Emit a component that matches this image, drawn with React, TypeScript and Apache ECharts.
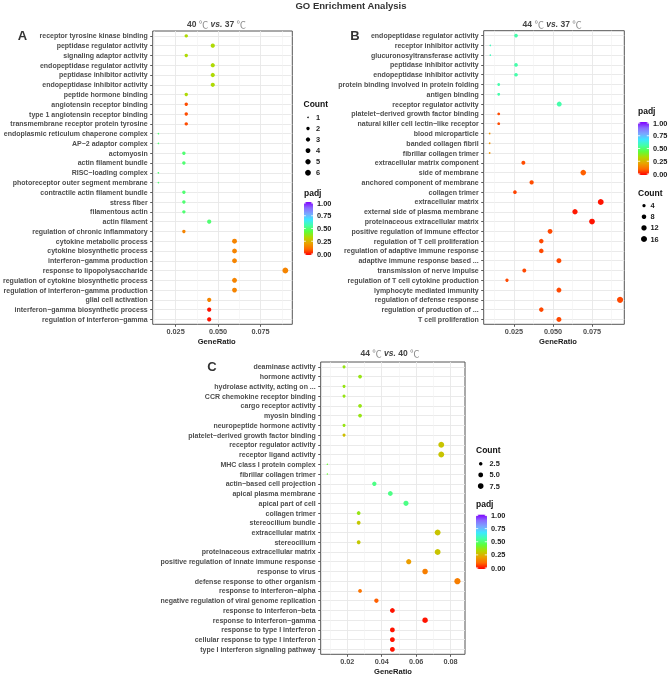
import React, { useEffect, useRef } from "react";
import * as echarts from "echarts";

// ---------- DATA ----------
const categoriesA = [
  "receptor tyrosine kinase binding",
  "peptidase regulator activity",
  "signaling adaptor activity",
  "endopeptidase regulator activity",
  "peptidase inhibitor activity",
  "endopeptidase inhibitor activity",
  "peptide hormone binding",
  "angiotensin receptor binding",
  "type 1 angiotensin receptor binding",
  "transmembrane receptor protein tyrosine",
  "endoplasmic reticulum chaperone complex",
  "AP−2 adaptor complex",
  "actomyosin",
  "actin filament bundle",
  "RISC−loading complex",
  "photoreceptor outer segment membrane",
  "contractile actin filament bundle",
  "stress fiber",
  "filamentous actin",
  "actin filament",
  "regulation of chronic inflammatory",
  "cytokine metabolic process",
  "cytokine biosynthetic process",
  "interferon−gamma production",
  "response to lipopolysaccharide",
  "regulation of cytokine biosynthetic process",
  "regulation of interferon−gamma production",
  "glial cell activation",
  "interferon−gamma biosynthetic process",
  "regulation of interferon−gamma",
];
const ratioA = [
  0.0313, 0.0469, 0.0313, 0.0469, 0.0469, 0.0469, 0.0313, 0.0313, 0.0313, 0.0313,
  0.0149, 0.0149, 0.0299, 0.0299, 0.0149, 0.0149, 0.0299, 0.0299, 0.0299, 0.0448,
  0.0299, 0.0597, 0.0597, 0.0597, 0.0896, 0.0597, 0.0597, 0.0448, 0.0448, 0.0448,
];
const countA = [2, 3, 2, 3, 3, 3, 2, 2, 2, 2, 1, 1, 2, 2, 1, 1, 2, 2, 2, 3, 2, 4, 4, 4, 6, 4, 4, 3, 3, 3];
const padjA = [
  0.34, 0.34, 0.34, 0.34, 0.34, 0.34, 0.34, 0.08, 0.08, 0.08,
  0.5, 0.5, 0.5, 0.5, 0.5, 0.5, 0.5, 0.5, 0.5, 0.5,
  0.16, 0.16, 0.16, 0.16, 0.16, 0.16, 0.16, 0.16, 0.02, 0.02,
];

const categoriesB = [
  "endopeptidase regulator activity",
  "receptor inhibitor activity",
  "glucuronosyltransferase activity",
  "peptidase inhibitor activity",
  "endopeptidase inhibitor activity",
  "protein binding involved in protein folding",
  "antigen binding",
  "receptor regulator activity",
  "platelet−derived growth factor binding",
  "natural killer cell lectin−like receptor",
  "blood microparticle",
  "banded collagen fibril",
  "fibrillar collagen trimer",
  "extracellular matrix component",
  "side of membrane",
  "anchored component of membrane",
  "collagen trimer",
  "extracellular matrix",
  "external side of plasma membrane",
  "proteinaceous extracellular matrix",
  "positive regulation of immune effector",
  "regulation of T cell proliferation",
  "regulation of adaptive immune response",
  "adaptive immune response based ...",
  "transmission of nerve impulse",
  "regulation of T cell cytokine production",
  "lymphocyte mediated immunity",
  "regulation of defense response",
  "regulation of production of ...",
  "T cell proliferation",
];
const ratioB = [
  0.0263, 0.0098, 0.0098, 0.0263, 0.0263, 0.0152, 0.0152, 0.054, 0.0152, 0.0152,
  0.0094, 0.0094, 0.0094, 0.031, 0.0694, 0.0363, 0.0256, 0.0806, 0.0641, 0.075,
  0.0481, 0.0425, 0.0425, 0.0538, 0.0316, 0.0205, 0.0538, 0.093, 0.0425, 0.0538,
];
const countB = [5, 2, 2, 5, 5, 3, 3, 10, 3, 3, 2, 2, 2, 6, 13, 7, 5, 15, 12, 14, 9, 8, 8, 10, 6, 4, 10, 17, 8, 10];
const padjB = [
  0.56, 0.58, 0.58, 0.56, 0.56, 0.56, 0.56, 0.56, 0.08, 0.08,
  0.19, 0.19, 0.19, 0.08, 0.1, 0.08, 0.07, 0.02, 0.025, 0.02,
  0.075, 0.075, 0.075, 0.075, 0.075, 0.075, 0.075, 0.075, 0.075, 0.075,
];

const categoriesC = [
  "deaminase activity",
  "hormone activity",
  "hydrolase activity, acting on ...",
  "CCR chemokine receptor binding",
  "cargo receptor activity",
  "myosin binding",
  "neuropeptide hormone activity",
  "platelet−derived growth factor binding",
  "receptor regulator activity",
  "receptor ligand activity",
  "MHC class I protein complex",
  "fibrillar collagen trimer",
  "actin−based cell projection",
  "apical plasma membrane",
  "apical part of cell",
  "collagen trimer",
  "stereocilium bundle",
  "extracellular matrix",
  "stereocilium",
  "proteinaceous extracellular matrix",
  "positive regulation of innate immune response",
  "response to virus",
  "defense response to other organism",
  "response to interferon−alpha",
  "negative regulation of viral genome replication",
  "response to interferon−beta",
  "response to interferon−gamma",
  "response to type I interferon",
  "cellular response to type I interferon",
  "type I interferon signaling pathway",
];
const ratioC = [
  0.0181, 0.0274, 0.0181, 0.0181, 0.0274, 0.0274, 0.0181, 0.0181, 0.0746, 0.0746,
  0.0084, 0.0084, 0.0357, 0.045, 0.0541, 0.0266, 0.0266, 0.0725, 0.0266, 0.0725,
  0.0557, 0.0652, 0.084, 0.0274, 0.0369, 0.0462, 0.0652, 0.0462, 0.0462, 0.0462,
];
const countC = [2, 3, 2, 2, 3, 3, 2, 2, 8, 8, 1, 1, 4, 5, 6, 3, 3, 8, 3, 8, 6, 7, 9, 3, 4, 5, 7, 5, 5, 5];
const padjC = [
  0.37, 0.37, 0.37, 0.37, 0.37, 0.37, 0.37, 0.28, 0.29, 0.29,
  0.43, 0.43, 0.52, 0.52, 0.52, 0.37, 0.3, 0.29, 0.3, 0.29,
  0.21, 0.15, 0.15, 0.13, 0.1, 0.02, 0.02, 0.02, 0.02, 0.02,
];

const xTicksAB = [0.025, 0.05, 0.075];
const xMinorAB = [0.0125, 0.0375, 0.0625, 0.0875];
const xTicksC = [0.02, 0.04, 0.06, 0.08];
const xMinorC = [0.01, 0.03, 0.05, 0.07];
const countLegendA = [1, 2, 3, 4, 5, 6];
const countLegendB = [4, 8, 12, 16];
const countLegendC = [2.5, 5.0, 7.5];
const padjTicks = [1.0, 0.75, 0.5, 0.25, 0.0];

// ---------- STYLE ----------
const FONT = "'Liberation Sans', Arial, Helvetica, sans-serif";
const padjColors = [
  "#FF0000", "#FF6A00", "#E8A400", "#B4D800", "#5CFF3C",
  "#44FFA8", "#3CE8FF", "#7AA8FF", "#8A6CFF", "#8000FF",
];

const panels = [
  {
    cats: categoriesA, ratio: ratioA, count: countA, padj: padjA,
    grid: { left: 150, top: 31, width: 142.3, height: 293.3 },
    xMin: 0.01155, xMax: 0.0937, ticks: xTicksAB, minor: xMinorAB, dec: 3,
    size: { cmin: 1, cmax: 6, dmin: 1.5, dmax: 5.8 },
    title: { x: 216.5, y: 24, a: "40 ", b: " 37 " },
    letter: { t: "A", x: 22.5, y: 35 },
    xname: { x: 216.7, y: 341.3 },
    countLeg: { title: [303.5, 104.3], dotX: 308, labX: 316, y0: 117.3, dy: 11.1, vals: countLegendA, dec: 0 },
    bar: { left: 304, top: 202, w: 9, h: 53, titleY: 193.3 },
  },
  {
    cats: categoriesB, ratio: ratioB, count: countB, padj: padjB,
    grid: { left: 483.7, top: 30.7, width: 140.6, height: 293.6 },
    xMin: 0.00558, xMax: 0.0957, ticks: xTicksAB, minor: xMinorAB, dec: 3,
    size: { cmin: 2, cmax: 17, dmin: 1.6, dmax: 6.2 },
    title: { x: 552.2, y: 24, a: "44 ", b: " 37 " },
    letter: { t: "B", x: 355, y: 35 },
    xname: { x: 558, y: 341.3 },
    countLeg: { title: [638, 193], dotX: 644, labX: 650.5, y0: 205.7, dy: 11.1, vals: countLegendB, dec: 0 },
    bar: { left: 638, top: 122, w: 11, h: 53, titleY: 111 },
  },
  {
    cats: categoriesC, ratio: ratioC, count: countC, padj: padjC,
    grid: { left: 320.7, top: 362, width: 144.3, height: 292.3 },
    xMin: 0.00453, xMax: 0.0884, ticks: xTicksC, minor: xMinorC, dec: 2,
    size: { cmin: 1, cmax: 9, dmin: 1.4, dmax: 6.2 },
    title: { x: 390, y: 353, a: "44 ", b: " 40 " },
    letter: { t: "C", x: 212, y: 366 },
    xname: { x: 393, y: 671.3 },
    countLeg: { title: [476, 450.3], dotX: 480.7, labX: 489.5, y0: 463.7, dy: 11.2, vals: countLegendC, dec: 1 },
    bar: { left: 476, top: 514.5, w: 11, h: 54.5, titleY: 504.3 },
  },
];

function diam(c: number, s: { cmin: number; cmax: number; dmin: number; dmax: number }) {
  const t = Math.max(0, Math.min(1, (c - s.cmin) / (s.cmax - s.cmin)));
  return s.dmin + (s.dmax - s.dmin) * Math.sqrt(t);
}

function txt(x: number, y: number, text: string, size: number, o: any = {}) {
  return {
    type: "text",
    x,
    y,
    silent: true,
    z: 100,
    style: {
      text,
      fontSize: size,
      fontFamily: o.family || FONT,
      fontWeight: o.weight || "bold",
      fontStyle: o.style || "normal",
      fill: o.fill || "#1A1A1A",
      align: o.align || "left",
      textAlign: o.align || "left",
      verticalAlign: "middle",
      textVerticalAlign: "middle",
    },
  };
}

function buildOption() {
  const grid: any[] = [];
  const xAxis: any[] = [];
  const yAxis: any[] = [];
  const series: any[] = [];
  const visualMap: any[] = [];
  const graphic: any[] = [];

  graphic.push(txt(351, 5, "GO Enrichment Analysis", 9.5, { align: "center", fill: "#333" }));

  panels.forEach((p, i) => {
    grid.push({
      ...p.grid,
      show: true,
      borderColor: "#555",
      borderWidth: 1,
      backgroundColor: "transparent",
      containLabel: false,
    });
    xAxis.push({
      type: "value",
      gridIndex: i,
      min: p.xMin,
      max: p.xMax,
      axisLine: { show: false },
      axisTick: { show: true, customValues: p.ticks, length: 2.5, lineStyle: { color: "#333", width: 0.8 } },
      axisLabel: {
        customValues: p.ticks,
        formatter: (v: number) => v.toFixed(p.dec),
        fontSize: 7.3,
        fontWeight: "bold",
        color: "#4D4D4D",
        fontFamily: FONT,
        margin: 3.5,
      },
      splitLine: { show: true, lineStyle: { color: "#E8E8E8", width: 0.9 } },
    });
    xAxis.push({
      type: "value",
      gridIndex: i,
      min: p.xMin,
      max: p.xMax,
      axisLine: { show: false },
      axisTick: { show: false, customValues: p.minor },
      axisLabel: { show: false, customValues: p.minor },
      splitLine: { show: true, lineStyle: { color: "#F1F1F1", width: 0.6 } },
    });
    yAxis.push({
      type: "category",
      gridIndex: i,
      data: p.cats,
      inverse: true,
      axisLine: { show: false },
      axisTick: { show: true, alignWithLabel: true, interval: 0, length: 2.5, lineStyle: { color: "#333", width: 0.8 } },
      axisLabel: { interval: 0, fontSize: 7, fontWeight: "bold", color: "#4D4D4D", fontFamily: FONT, margin: 5 },
      splitLine: { show: true, alignWithLabel: true, interval: 0, lineStyle: { color: "#E8E8E8", width: 0.9 } },
    });
    series.push({
      type: "scatter",
      xAxisIndex: 2 * i,
      yAxisIndex: i,
      silent: true,
      data: p.cats.map((c, k) => [p.ratio[k], c, p.count[k], p.padj[k]]),
      symbolSize: (v: any) => diam(v[2], p.size),
      itemStyle: { opacity: 1, borderWidth: 0 },
    });
    visualMap.push({
      type: "continuous",
      seriesIndex: i,
      dimension: 3,
      min: 0,
      max: 1,
      calculable: false,
      hoverLink: false,
      left: p.bar.left,
      top: p.bar.top,
      itemWidth: p.bar.w,
      itemHeight: p.bar.h,
      padding: 0,
      inRange: { color: padjColors },
      textStyle: { fontSize: 0 },
    });

    // panel title with rich text
    graphic.push({
      type: "text",
      x: p.title.x,
      y: p.title.y,
      silent: true,
      style: {
        text: `{b|${p.title.a}}{c|℃}{i| vs.}{b|${p.title.b}}{c|℃}`,
        align: "center",
        textAlign: "center",
        verticalAlign: "middle",
        textVerticalAlign: "middle",
        rich: {
          b: { fontSize: 8.5, fontWeight: "bold", fontFamily: FONT, fill: "#444" },
          i: { fontSize: 8.5, fontWeight: "bold", fontStyle: "italic", fontFamily: FONT, fill: "#444" },
          c: { fontSize: 9.5, fontWeight: "normal", fontFamily: "'Noto Sans CJK SC'", fill: "#8A8A8A" },
        },
      },
    });
    graphic.push(txt(p.letter.x, p.letter.y, p.letter.t, 13, { align: "center", fill: "#333" }));
    graphic.push(txt(p.xname.x, p.xname.y, "GeneRatio", 7.6, { align: "center", fill: "#1A1A1A" }));

    // Count legend
    const cl = p.countLeg;
    graphic.push(txt(cl.title[0], cl.title[1], "Count", 8.5, { fill: "#111" }));
    cl.vals.forEach((v, k) => {
      const y = cl.y0 + k * cl.dy;
      graphic.push({
        type: "circle",
        silent: true,
        shape: { cx: cl.dotX, cy: y, r: diam(v, p.size) / 2 },
        style: { fill: "#000" },
      });
      graphic.push(txt(cl.labX, y, v.toFixed(cl.dec), 7.4, { fill: "#1A1A1A" }));
    });

    // padj legend
    const b = p.bar;
    graphic.push(txt(b.left, b.titleY, "padj", 8.5, { fill: "#111" }));
    padjTicks.forEach((v) => {
      const y = b.top + 1 + (1 - v) * (b.h - 2);
      graphic.push(txt(b.left + b.w + 4, y, v.toFixed(2), 7.4, { fill: "#1A1A1A" }));
      const tw = b.w / 5;
      graphic.push({
        type: "line",
        silent: true,
        z: 100,
        shape: { x1: b.left, y1: y, x2: b.left + tw, y2: y },
        style: { stroke: "#FFFFFF", lineWidth: 0.8 },
      });
      graphic.push({
        type: "line",
        silent: true,
        z: 100,
        shape: { x1: b.left + b.w - tw, y1: y, x2: b.left + b.w, y2: y },
        style: { stroke: "#FFFFFF", lineWidth: 0.8 },
      });
    });
  });

  return {
    animation: false,
    backgroundColor: "#FFFFFF",
    textStyle: { fontFamily: FONT },
    grid,
    xAxis,
    yAxis,
    series,
    visualMap,
    graphic,
  };
}

export default function App() {
  const ref = useRef<HTMLDivElement>(null);
  useEffect(() => {
    document.body.style.margin = "0";
    if (!ref.current) return;
    const chart = echarts.init(ref.current, undefined, { renderer: "svg" });
    chart.setOption(buildOption() as any);
    return () => chart.dispose();
  }, []);
  return <div ref={ref} style={{ width: 669, height: 676, willChange: "transform" }} />;
}
